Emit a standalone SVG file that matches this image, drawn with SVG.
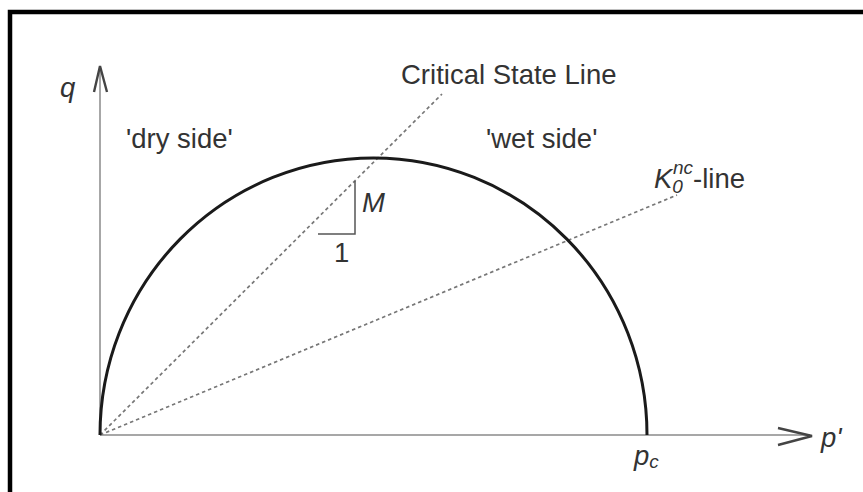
<svg xmlns="http://www.w3.org/2000/svg" width="863" height="492" viewBox="0 0 863 492">
<style>
.t{font-family:"Liberation Sans",Arial,sans-serif;font-size:27.5px;fill:#333}
.i{font-style:italic}
.ax{stroke:#8a8a8a;stroke-width:1.5;fill:none}
.hd{stroke:#444;stroke-width:2.4;fill:none}
.dash{stroke:#777;stroke-width:1.7;stroke-dasharray:3.5,3;fill:none}
</style>
<rect x="0" y="0" width="863" height="492" fill="#fff"/>
<path d="M10,492 V12 H863" fill="none" stroke="#000" stroke-width="4.5"/>
<g id="axes">
<path class="ax" d="M100,435 V70"/>
<path class="hd" d="M94,92 L100,66 L107,92"/>
<path class="ax" d="M100,435 H810"/>
<path class="hd" d="M778,428 L812,436 L778,445"/>
</g>
<g id="connectors">
<path class="dash" d="M100,435 L442,94"/>
<path class="dash" d="M100,435 L677,195"/>
</g>
<g id="yield-surface">
<path d="M100,435 A273.5,277 0 0 1 647,435" fill="none" stroke="#1a1a1a" stroke-width="3"/>
</g>
<g id="slope">
<path d="M318,234 H355 V181" fill="none" stroke="#555" stroke-width="1.5"/>
<text class="t" x="334" y="262">1</text>
<text class="t i" x="362" y="212">M</text>
</g>
<g id="labels">
<text class="t i" x="60" y="97">q</text>
<text class="t" x="126" y="148">'dry side'</text>
<text class="t" x="401" y="84">Critical State Line</text>
<text class="t" x="486" y="148">'wet side'</text>
<text class="t" x="654" y="188"><tspan class="i">K</tspan><tspan class="i" font-size="19" dy="5">0</tspan><tspan class="i" font-size="19" dx="-10" dy="-19">nc</tspan><tspan dy="14">-line</tspan></text>
<text class="t i" x="634" y="465">p<tspan font-size="19" dy="3">c</tspan></text>
<text class="t i" x="821" y="447">p'</text>
</g>
</svg>
